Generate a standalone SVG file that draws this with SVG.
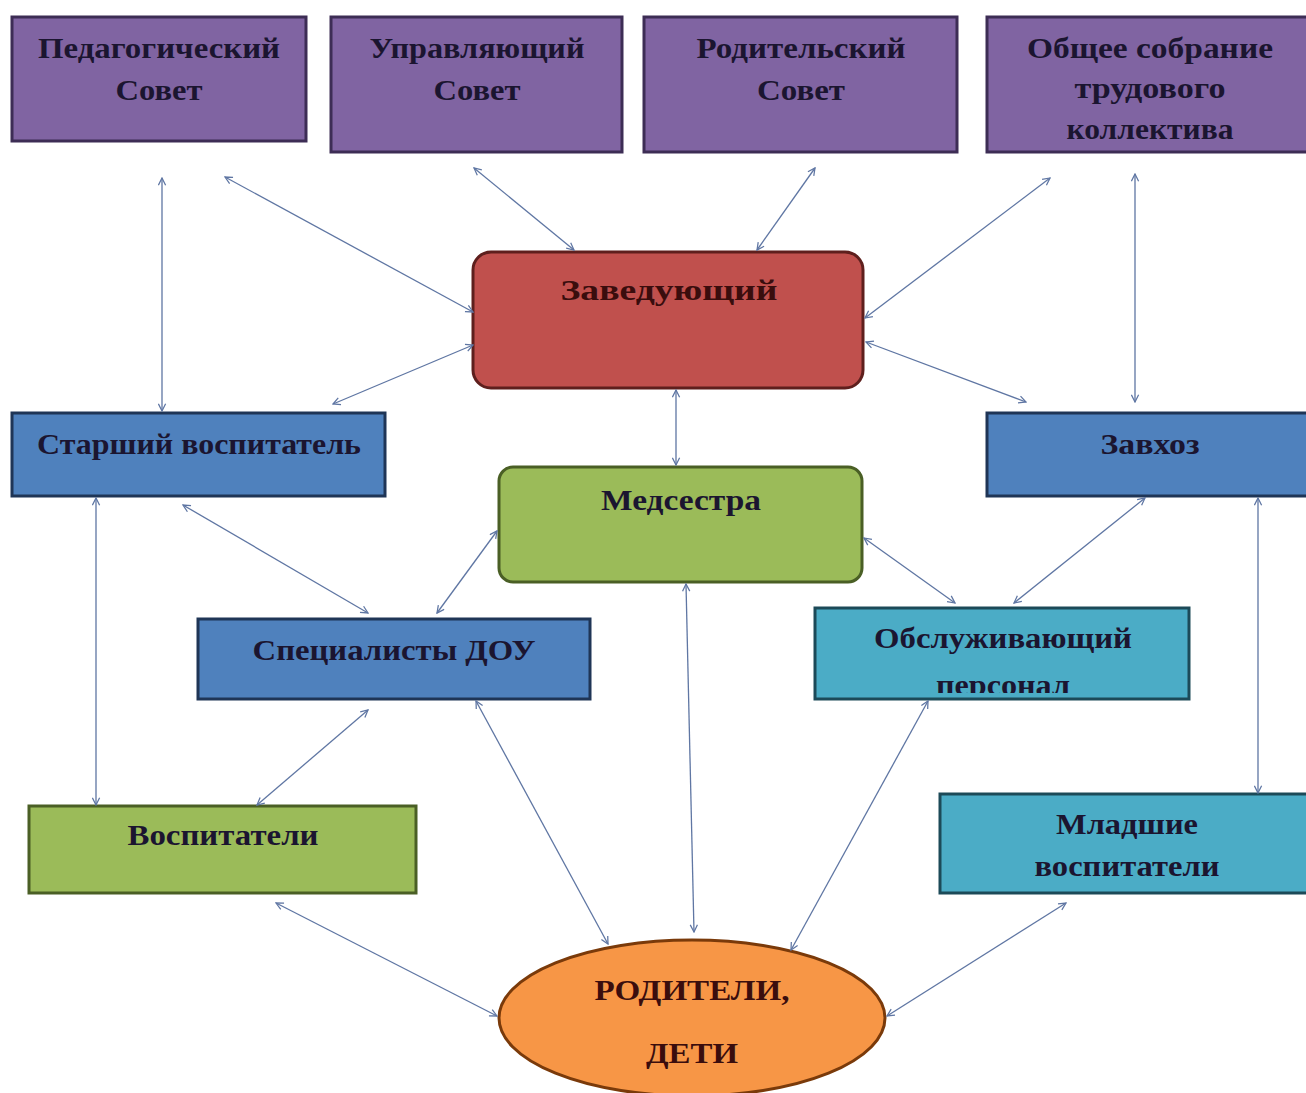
<svg xmlns="http://www.w3.org/2000/svg" width="1306" height="1093" viewBox="0 0 1306 1093">
<defs>
<marker id="ah" viewBox="0 0 10 10" refX="9" refY="5" markerWidth="9" markerHeight="9" markerUnits="userSpaceOnUse" orient="auto-start-reverse">
<path d="M1,1 L9,5 L1,9" fill="none" stroke="#5f76a3" stroke-width="1.4"/>
</marker>
<clipPath id="clipObs"><rect x="815" y="608" width="374" height="85"/></clipPath>
</defs>
<style>
.purple{fill:#8064a2;stroke:#3d2d55;stroke-width:3}
.red{fill:#c0504d;stroke:#5e1f1d;stroke-width:3}
.blue{fill:#4f81bd;stroke:#1f3556;stroke-width:3}
.green{fill:#9bbb59;stroke:#4a5f25;stroke-width:3}
.teal{fill:#4bacc6;stroke:#1c4a58;stroke-width:3}
.orange{fill:#f79646;stroke:#7a3a0a;stroke-width:3}
text{font-family:"Liberation Serif","DejaVu Serif","Noto Serif",serif;font-size:29px;font-weight:bold;text-anchor:middle;fill:#1b1530}
.dk{fill:#3a0d0d}
.con line{stroke:#5f76a3;stroke-width:1.3;marker-start:url(#ah);marker-end:url(#ah)}
</style>
<rect width="1306" height="1093" fill="#ffffff"/>

<g id="n-ped"><rect class="purple" x="12" y="17" width="294" height="124"/><text x="159" y="58" textLength="242" lengthAdjust="spacingAndGlyphs">Педагогический</text><text x="159" y="100" textLength="87" lengthAdjust="spacingAndGlyphs">Совет</text></g>
<g id="n-upr"><rect class="purple" x="331" y="17" width="291" height="135"/><text x="477" y="58" textLength="215" lengthAdjust="spacingAndGlyphs">Управляющий</text><text x="477" y="100" textLength="87" lengthAdjust="spacingAndGlyphs">Совет</text></g>
<g id="n-rod"><rect class="purple" x="644" y="17" width="313" height="135"/><text x="801" y="58" textLength="209" lengthAdjust="spacingAndGlyphs">Родительский</text><text x="801" y="100" textLength="88" lengthAdjust="spacingAndGlyphs">Совет</text></g>
<g id="n-obsh"><rect class="purple" x="987" y="17" width="322" height="135"/><text x="1150" y="58" textLength="246" lengthAdjust="spacingAndGlyphs">Общее собрание</text><text x="1150" y="98" textLength="151" lengthAdjust="spacingAndGlyphs">трудового</text><text x="1150" y="139" textLength="167" lengthAdjust="spacingAndGlyphs">коллектива</text></g>

<g id="n-zav"><rect class="red" x="473" y="252" width="390" height="136" rx="18"/><text class="dk" x="669" y="300" textLength="217" lengthAdjust="spacingAndGlyphs">Заведующий</text></g>

<g id="n-star"><rect class="blue" x="12" y="413" width="373" height="83"/><text x="199" y="454" textLength="324" lengthAdjust="spacingAndGlyphs">Старший воспитатель</text></g>
<g id="n-zavhoz"><rect class="blue" x="987" y="413" width="322" height="83"/><text x="1150" y="454" textLength="99" lengthAdjust="spacingAndGlyphs">Завхоз</text></g>

<g id="n-med"><rect class="green" x="499" y="467" width="363" height="115" rx="14"/><text x="681" y="510" textLength="160" lengthAdjust="spacingAndGlyphs">Медсестра</text></g>

<g id="n-spec"><rect class="blue" x="198" y="619" width="392" height="80"/><text x="394" y="660" textLength="283" lengthAdjust="spacingAndGlyphs">Специалисты ДОУ</text></g>
<g id="n-obsl"><rect class="teal" x="815" y="608" width="374" height="91"/><text x="1003" y="648" textLength="258" lengthAdjust="spacingAndGlyphs">Обслуживающий</text><text x="1003" y="695" clip-path="url(#clipObs)" textLength="134" lengthAdjust="spacingAndGlyphs">персонал</text></g>

<g id="n-vosp"><rect class="green" x="29" y="806" width="387" height="87"/><text x="223" y="845" textLength="191" lengthAdjust="spacingAndGlyphs">Воспитатели</text></g>
<g id="n-mlad"><rect class="teal" x="940" y="794" width="369" height="99"/><text x="1127" y="834" textLength="142" lengthAdjust="spacingAndGlyphs">Младшие</text><text x="1127" y="876" textLength="185" lengthAdjust="spacingAndGlyphs">воспитатели</text></g>

<g id="n-rodit"><ellipse class="orange" cx="692" cy="1018" rx="193" ry="78"/><text class="dk" x="692" y="1000" textLength="195" lengthAdjust="spacingAndGlyphs">РОДИТЕЛИ,</text><text class="dk" x="692" y="1063" textLength="92" lengthAdjust="spacingAndGlyphs">ДЕТИ</text></g>

<g id="connectors" class="con">
<line x1="162" y1="178" x2="162" y2="411"/>
<line x1="225" y1="177" x2="473" y2="312"/>
<line x1="474" y1="168" x2="574" y2="250"/>
<line x1="815" y1="168" x2="757" y2="250"/>
<line x1="1050" y1="178" x2="865" y2="318"/>
<line x1="1135" y1="174" x2="1135" y2="402"/>
<line x1="473" y1="345" x2="333" y2="404"/>
<line x1="866" y1="342" x2="1026" y2="402"/>
<line x1="676" y1="390" x2="676" y2="465"/>
<line x1="96" y1="498" x2="96" y2="805"/>
<line x1="183" y1="505" x2="368" y2="613"/>
<line x1="497" y1="531" x2="437" y2="613"/>
<line x1="864" y1="538" x2="955" y2="603"/>
<line x1="1145" y1="498" x2="1014" y2="603"/>
<line x1="1258" y1="498" x2="1258" y2="793"/>
<line x1="368" y1="710" x2="257" y2="805"/>
<line x1="476" y1="701" x2="608" y2="944"/>
<line x1="686" y1="584" x2="694" y2="932"/>
<line x1="928" y1="701" x2="791" y2="950"/>
<line x1="276" y1="903" x2="497" y2="1016"/>
<line x1="1066" y1="903" x2="887" y2="1016"/>
</g>
</svg>
